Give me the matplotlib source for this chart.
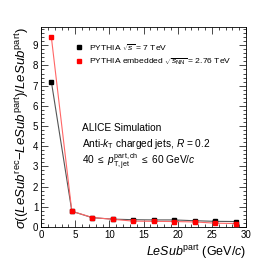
import numpy as np
import matplotlib.pyplot as plt
from matplotlib.ticker import MultipleLocator

plt.rcParams['font.family'] = ['Liberation Sans', 'DejaVu Sans']
plt.rcParams['mathtext.fontset'] = 'custom'
plt.rcParams['mathtext.rm'] = 'Liberation Sans'
plt.rcParams['mathtext.it'] = 'Liberation Sans:italic'

# bin centres (GeV/c)
lesub_part = [1.5, 4.5, 7.5, 10.5, 13.5, 16.5, 19.5, 22.5, 25.5, 28.5]
sigma_pp = [7.2, 0.78, 0.46, 0.39, 0.36, 0.35, 0.35, 0.31, 0.28, 0.27]
sigma_emb = [9.4, 0.78, 0.47, 0.38, 0.29, 0.28, 0.27, 0.25, 0.19, 0.17]

fig = plt.figure(figsize=(2.74, 2.68), dpi=100)
ax = fig.add_axes([0.15, 0.153, 0.748, 0.746])

ax.plot(lesub_part, sigma_pp, color='#555555', lw=0.8, zorder=2)
ax.plot(lesub_part, sigma_emb, color='#ff6666', lw=0.8, zorder=2)
ax.plot(lesub_part, sigma_pp, 's', color='black', ms=3.2, zorder=3)
ax.plot(lesub_part, sigma_emb, 's', color='#ff0000', ms=3.2, zorder=3)

ax.set_xlim(0, 30)
ax.set_ylim(0, 9.9)
ax.xaxis.set_major_locator(MultipleLocator(5))
ax.xaxis.set_minor_locator(MultipleLocator(1))
ax.yaxis.set_major_locator(MultipleLocator(1))
ax.yaxis.set_minor_locator(MultipleLocator(0.2))
ax.tick_params(which='both', direction='in', top=True, right=True,
               labelsize=7, width=0.5, pad=2)
ax.tick_params(which='major', length=5)
ax.tick_params(which='minor', length=2.5)
for s in ax.spines.values():
    s.set_linewidth(0.6)

ax.set_xlabel(r'$\it{LeSub}^{\rm part}$ (GeV/$\it{c}$)', fontsize=9,
              loc='right', labelpad=2)
ax.set_ylabel(r'$\sigma$(($\it{LeSub}^{\rm rec}$$-$$\it{LeSub}^{\rm part}$)/$\it{LeSub}^{\rm part}$)',
              fontsize=9.5, loc='top', labelpad=1)

# legend
ax.plot([5.5], [8.9], 's', color='black', ms=3.2)
ax.plot([5.5], [8.2], 's', color='#ff0000', ms=3.2)
ax.text(7.0, 8.9, r'PYTHIA $\sqrt{s}$ = 7 TeV', fontsize=6.1, va='center')
ax.text(7.0, 8.2, r'PYTHIA embedded $\sqrt{s_{\rm NN}}$ = 2.76 TeV', fontsize=6.1,
        va='center')

ax.text(6.0, 4.9, 'ALICE Simulation', fontsize=7.3, va='center')
ax.text(6.0, 4.12, r'Anti-$\it{k}_{\rm T}$ charged jets, $\it{R}$ = 0.2', fontsize=7.3,
        va='center')
ax.text(6.0, 3.22, r'40 $\leq$ $\it{p}_{\rm T,jet}^{\rm part,ch}$ $\leq$ 60 GeV/$\it{c}$',
        fontsize=7.3, va='center')

fig.savefig('out.png', dpi=100)
